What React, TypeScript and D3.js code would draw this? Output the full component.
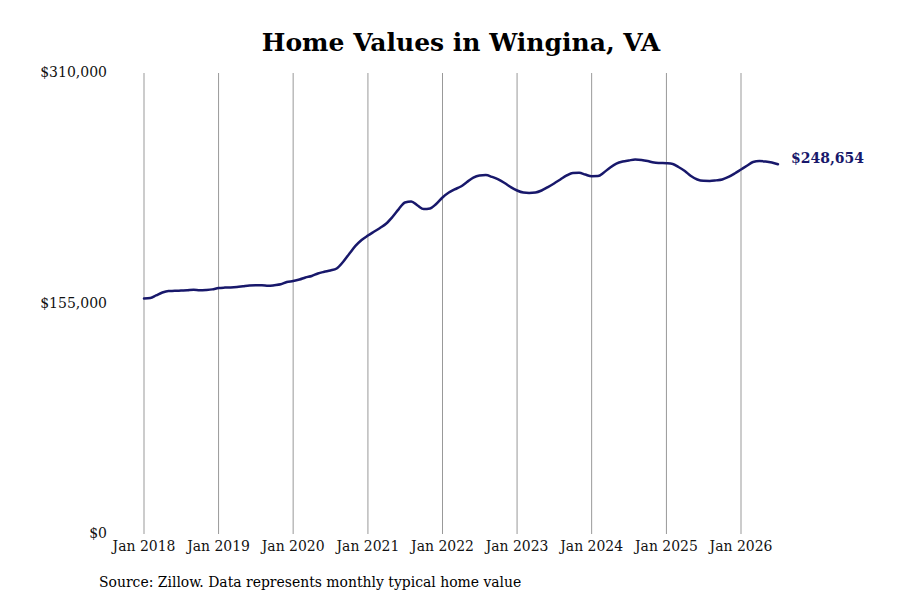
import React, { useRef, useEffect } from 'react';
import * as d3 from 'd3';

// monthly typical home value, Jan 2018 .. Jul 2026
const startMonth = new Date(2018, 0, 1);
const homeValues: number[] = [
  158400, 158700, 160400, 162400, 163400, 163500, 163700, 163900, 164200, 163900, 164100, 164500,
  165400, 165700, 165800, 166100, 166600, 167100, 167300, 167300, 166900, 167300, 167900, 169500,
  170100, 171100, 172500, 173500, 175200, 176300, 177200, 178500, 182900, 188300, 193700, 197700,
  200700, 203400, 205800, 208800, 213200, 218500, 222900, 223600, 220900, 218500, 218900, 221900,
  226300, 229600, 231700, 233700, 236700, 239700, 241100, 241400, 240100, 238400, 236000, 233300,
  231000, 229600, 229300, 229600, 231000, 233300, 235700, 238400, 241100, 242800, 242900, 241700,
  240600, 240700, 243100, 246500, 249100, 250500, 251200, 251800, 251500, 250800, 249800, 249500,
  249300, 248800, 246800, 244100, 240700, 238400, 237500, 237400, 237800, 238400, 240100, 242400,
  245100, 247800, 250200, 250800, 250500, 249800, 248654,
];
const yTicks = [0, 155000, 310000];
const tickYears = [2018, 2019, 2020, 2021, 2022, 2023, 2024, 2025, 2026];

const title = 'Home Values in Wingina, VA';
const source = 'Source: Zillow. Data represents monthly typical home value';

const LINE = '#18186b';
const FONT = '"DejaVu Serif", serif';

const HomeValueChart: React.FC = () => {
  const svgRef = useRef<SVGSVGElement>(null);

  useEffect(() => {
    if (!svgRef.current) return;
    const svg = d3.select(svgRef.current);
    svg.selectAll('*').remove();

    const data = homeValues.map((v, i) => ({ date: d3.timeMonth.offset(startMonth, i), value: v }));

    const xScale = d3.scaleTime()
      .domain([new Date(2018, 0, 1), new Date(2026, 0, 1)])
      .range([144, 741]);
    const yScale = d3.scaleLinear().domain([0, 310000]).range([534, 73]);

    svg.append('rect').attr('width', 900).attr('height', 600).attr('fill', '#fff');

    // title
    svg.append('text')
      .attr('x', 461).attr('y', 51)
      .attr('text-anchor', 'middle')
      .style('font-family', FONT).style('font-weight', 'bold').style('font-size', '25px')
      .style('fill', '#000')
      .text(title);

    // vertical grid
    const ticks = tickYears.map((y) => new Date(y, 0, 1));
    svg.append('g')
      .selectAll('line')
      .data(ticks)
      .join('line')
      .attr('x1', (d) => xScale(d)).attr('x2', (d) => xScale(d))
      .attr('y1', yScale(310000)).attr('y2', yScale(0))
      .attr('stroke', '#999').attr('stroke-width', 1);

    // x labels
    svg.append('g')
      .selectAll('text')
      .data(ticks)
      .join('text')
      .attr('x', (d) => xScale(d)).attr('y', 551)
      .attr('text-anchor', 'middle')
      .style('font-family', FONT).style('font-stretch', 'condensed').style('font-size', '15.5px')
      .style('fill', '#111')
      .text((d) => d3.timeFormat('Jan %Y')(d));

    // y labels
    svg.append('g')
      .selectAll('text')
      .data(yTicks)
      .join('text')
      .attr('x', 107).attr('y', (d) => yScale(d)).attr('dy', '0.32em')
      .attr('text-anchor', 'end')
      .style('font-family', FONT).style('font-size', '14px')
      .style('fill', '#111')
      .text((d) => d3.format('$,')(d));

    const line = d3.line<{ date: Date; value: number }>()
      .x((d) => xScale(d.date))
      .y((d) => yScale(d.value))
      .curve(d3.curveMonotoneX);

    svg.append('path')
      .datum(data)
      .attr('fill', 'none')
      .attr('stroke', LINE)
      .attr('stroke-width', 2.5)
      .attr('stroke-linejoin', 'round')
      .attr('stroke-linecap', 'round')
      .attr('d', line);

    // end label
    const last = data[data.length - 1];
    svg.append('text')
      .attr('x', xScale(last.date) + 13).attr('y', yScale(last.value) - 6).attr('dy', '0.32em')
      .style('font-family', FONT).style('font-weight', 'bold').style('font-size', '14px')
      .style('fill', LINE)
      .text(d3.format('$,')(last.value));

    // source
    svg.append('text')
      .attr('x', 99).attr('y', 587)
      .style('font-family', FONT).style('font-stretch', 'condensed').style('font-size', '15.5px')
      .style('fill', '#000')
      .text(source);
  }, []);

  return <svg ref={svgRef} width={900} height={600} style={{ position: 'absolute', left: 0, top: 0 }} />;
};

export default function App() {
  return <HomeValueChart />;
}
